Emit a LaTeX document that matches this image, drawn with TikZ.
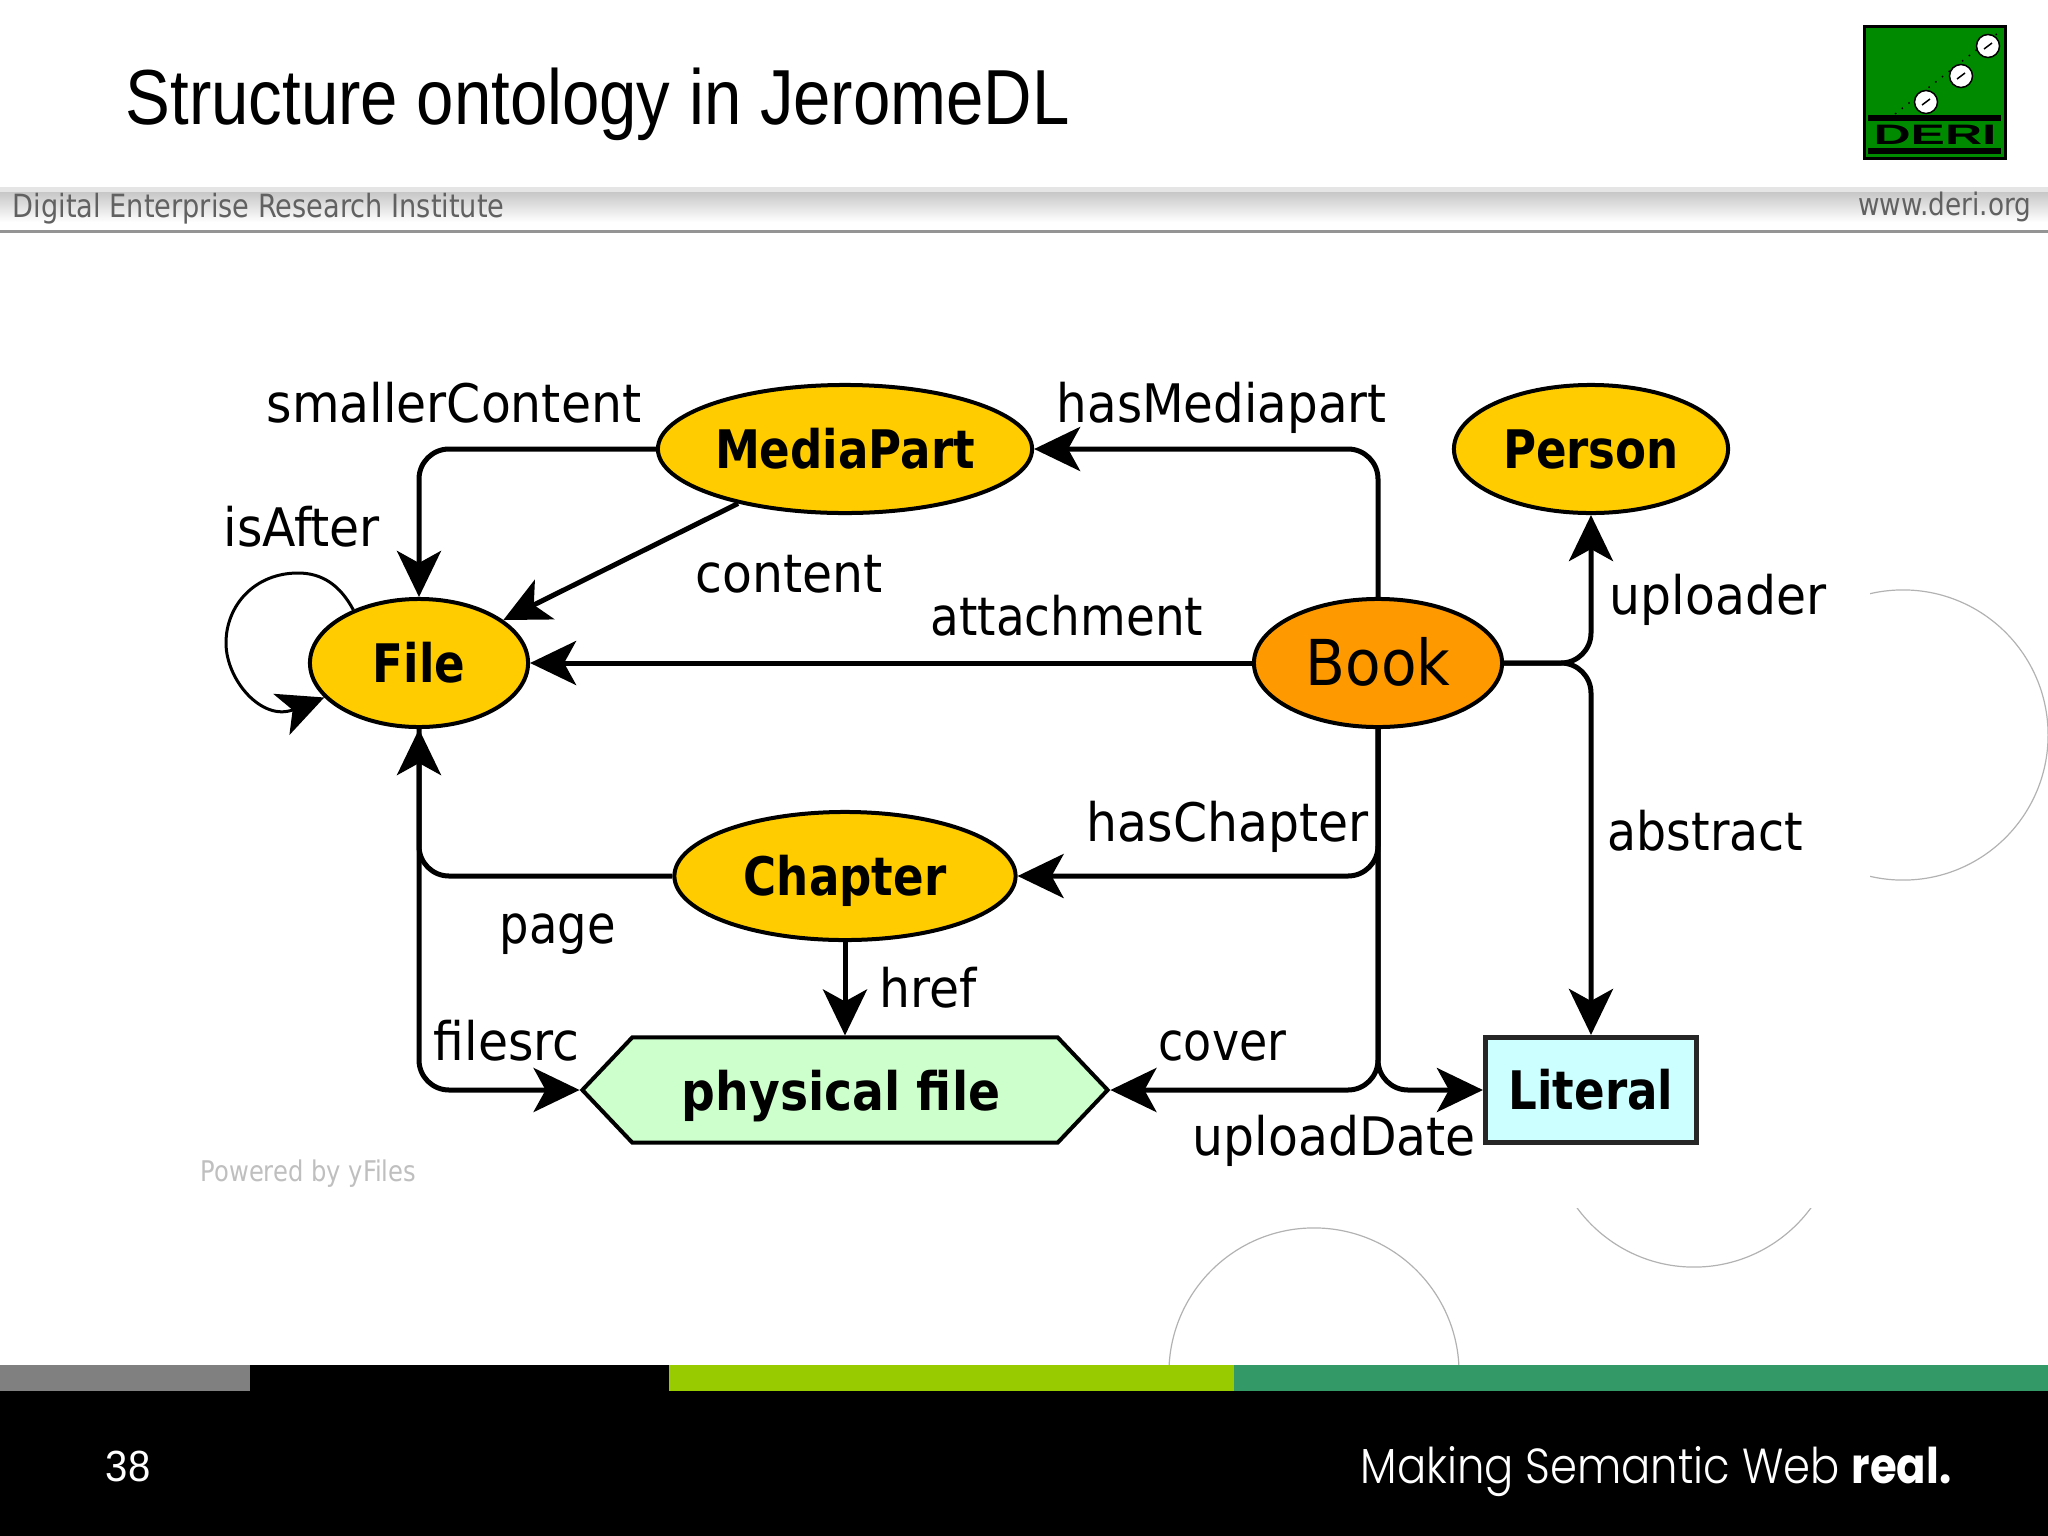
\documentclass[tikz,border=0pt]{standalone}
\usepackage{fontspec}
\usetikzlibrary{arrows.meta,shapes.geometric,shapes.symbols}
\setmainfont{Liberation Sans}
\newfontfamily\titf[FakeStretch=0.86]{Liberation Sans}
\newfontfamily\numf[FakeStretch=0.92]{Liberation Sans}
\newfontfamily\lab[FakeStretch=0.92]{DejaVu Sans}
\newfontfamily\labb[FakeStretch=0.85]{DejaVu Sans}
\newfontfamily\labw[FakeStretch=0.89]{DejaVu Sans}
\newfontfamily\barf[FakeStretch=0.85]{DejaVu Sans}
\newfontfamily\deri[FakeStretch=1.83]{Liberation Sans}
\newfontfamily\slog[UprightFont=* Light,BoldFont=* Bold,FakeStretch=0.88]{Poppins}
\definecolor{nodey}{HTML}{FFCC00}
\definecolor{nodeo}{HTML}{FF9900}
\definecolor{nodel}{HTML}{CCFFFF}
\definecolor{nodeh}{HTML}{CCFFCC}
\definecolor{logog}{HTML}{008A00}
\definecolor{bgreen}{HTML}{99CC00}
\definecolor{bteal}{HTML}{339966}
\tikzset{
  cls/.style={ellipse,draw=black,line width=0.04cm,inner sep=0pt,minimum height=1.28cm,text height=0.49cm,text depth=0.10cm,font=\labb\bfseries\fontsize{15.1pt}{18pt}\selectfont},
  edge/.style={draw=black,line width=0.05cm,rounded corners=0.3cm,-{Stealth[length=0.46cm,width=0.44cm,inset=0.12cm]}},
  lbl/.style={anchor=base west,inner sep=0pt,font=\lab\fontsize{15.1pt}{18pt}\selectfont},
  sx/.style={xscale=#1,transform shape},
  deco/.style={draw=black!30,line width=0.012cm},
}
\begin{document}
\begin{tikzpicture}[x=0.01cm,y=-0.01cm]
\useasboundingbox (0,0) rectangle (2048,1536);
% decorative circles, partly hidden by the white picture area
\draw[deco] (1903,735) circle (1.45cm);
\draw[deco] (1694,1122) circle (1.45cm);
\draw[deco] (1314,1373) circle (1.45cm);
\fill[white] (190,360) rectangle (1870,1208);
% header bar
\fill[black!10] (0,187) rectangle (2048,192);
\shade[top color=black!22,bottom color=white] (0,192) rectangle (2048,222);
\draw[black!42,line width=0.03cm] (0,231) -- (2048,231);
\node[anchor=base west,inner sep=0pt,text=black!62,font=\barf\fontsize{9.1pt}{11pt}\selectfont] (inst) at (12,217) {Digital Enterprise Research Institute};
\node[anchor=base east,inner sep=0pt,text=black!62,font=\barf\fontsize{8.8pt}{11pt}\selectfont] (www) at (2032,215) {www.deri.org};
% title
\node[anchor=base west,inner sep=0pt,font=\titf\fontsize{22.2pt}{26pt}\selectfont] (title) at (125,124) {Structure ontology in JeromeDL};
% logo
\draw[fill=logog,draw=black,line width=0.03cm] (1864,26) rectangle (2005,158);
\fill[black] (1868,115) rectangle (2001,121);
\fill[black] (1868,148) rectangle (2001,154);
\node[inner sep=0pt,font=\deri\bfseries\fontsize{8pt}{10pt}\selectfont] (deri) at (1935,135) {DERI};
\draw[black,line width=0.015cm,dotted] (1895,114) -- (1998,33);
\foreach \cx/\cy in {1926/102,1961/76,1988/46}{
  \draw[fill=white,draw=black,line width=0.015cm] (\cx,\cy) circle (0.115cm);
  \draw[black,line width=0.015cm] (\cx-4,\cy+3) -- (\cx+4,\cy-3);
}
% footer
\fill[black] (0,1365) rectangle (2048,1536);
\fill[black!50] (0,1365) rectangle (250,1391);
\fill[bgreen] (669,1365) rectangle (1234,1391);
\fill[bteal] (1234,1365) rectangle (2048,1391);
\node[anchor=base west,inner sep=0pt,text=white,font=\numf\fontsize{12.4pt}{15pt}\selectfont] (pg) at (105,1481) {38};
\node[anchor=base west,inner sep=0pt,text=white,font=\slog\fontsize{14pt}{17pt}\selectfont] (slogan) at (1360,1483) {Making Semantic Web \textbf{real.}};
\node[anchor=base west,inner sep=0pt,text=black!25,font=\barf\fontsize{8.1pt}{9pt}\selectfont] (yf) at (200,1181) {Powered by yFiles};
% nodes
\node[cls,fill=nodey,minimum width=3.74cm] (media) at (845,449) {MediaPart};
\node[cls,fill=nodey,minimum width=2.74cm] (person) at (1591,449) {Person};
\node[cls,fill=nodey,minimum width=2.18cm] (file) at (419,663) {File};
\node[cls,fill=nodeo,minimum width=2.48cm,text height=0.54cm,font=\lab\fontsize{18pt}{22pt}\selectfont] (book) at (1378,663) {Book};
\node[cls,fill=nodey,minimum width=3.41cm] (chapter) at (845,876) {Chapter};
\node[signal,signal to=east and west,signal pointer angle=93,draw=black,line width=0.04cm,fill=nodeh,inner sep=0pt,minimum width=5.25cm,minimum height=1.05cm,text height=0.50cm,text depth=0.10cm,font=\labw\bfseries\fontsize{15.1pt}{18pt}\selectfont] (phys) at (845,1090) {physical file\kern0.08cm};
\node[rectangle,draw=black!85,line width=0.05cm,fill=nodel,inner sep=0pt,minimum width=2.11cm,minimum height=1.05cm,text height=0.49cm,text depth=0.10cm,font=\labb\bfseries\fontsize{15.1pt}{18pt}\selectfont] (literal) at (1591,1090) {Literal};
% connectors
\draw[edge] (media.west) -| (file.north);
\draw[edge] (media.207) -- (file.27);
\draw[edge] (book.west) -- (file.east);
\draw[edge,line width=0.03cm,rounded corners=0pt] (file.141) .. controls (340,585) and (322,573) .. (298,573) .. controls (255,573) and (226,605) .. (226,643) .. controls (226,680) and (262,722) .. (file.200);
\draw[edge] (book.north) |- (media.east);
\draw[edge] (book.east) -| (person.south);
\draw[edge] (book.east) -| (literal.north);
\draw[edge] (book.south) |- (chapter.east);
\draw[edge] (book.south) |- (phys.east);
\draw[edge] (book.south) |- (literal.west);
\draw[edge] (chapter.west) -| (file.south);
\draw[edge] (file.south) |- (phys.west);
\draw[edge] (chapter.south) -- (phys.north);
% labels
\node[lbl] (l1) at (266,422) {smallerContent};
\node[lbl] (l2) at (223,546) {isAfter};
\node[lbl] (l3) at (695,592) {content};
\node[lbl,sx=0.96] (l4) at (930,635) {attachment};
\node[lbl,sx=0.99] (l5) at (1056,422) {hasMediapart};
\node[lbl] (l6) at (1609,614) {uploader};
\node[lbl,sx=0.97] (l7) at (1607,850) {abstract};
\node[lbl] (l8) at (1086,841) {hasChapter};
\node[lbl,sx=0.95] (l9) at (499,943) {page};
\node[lbl] (l10) at (879,1007) {href};
\node[lbl] (l11) at (433,1060) {filesrc};
\node[lbl,sx=0.94] (l12) at (1158,1060) {cover};
\node[lbl] (l13) at (1192,1155) {uploadDate};
\end{tikzpicture}
\end{document}
